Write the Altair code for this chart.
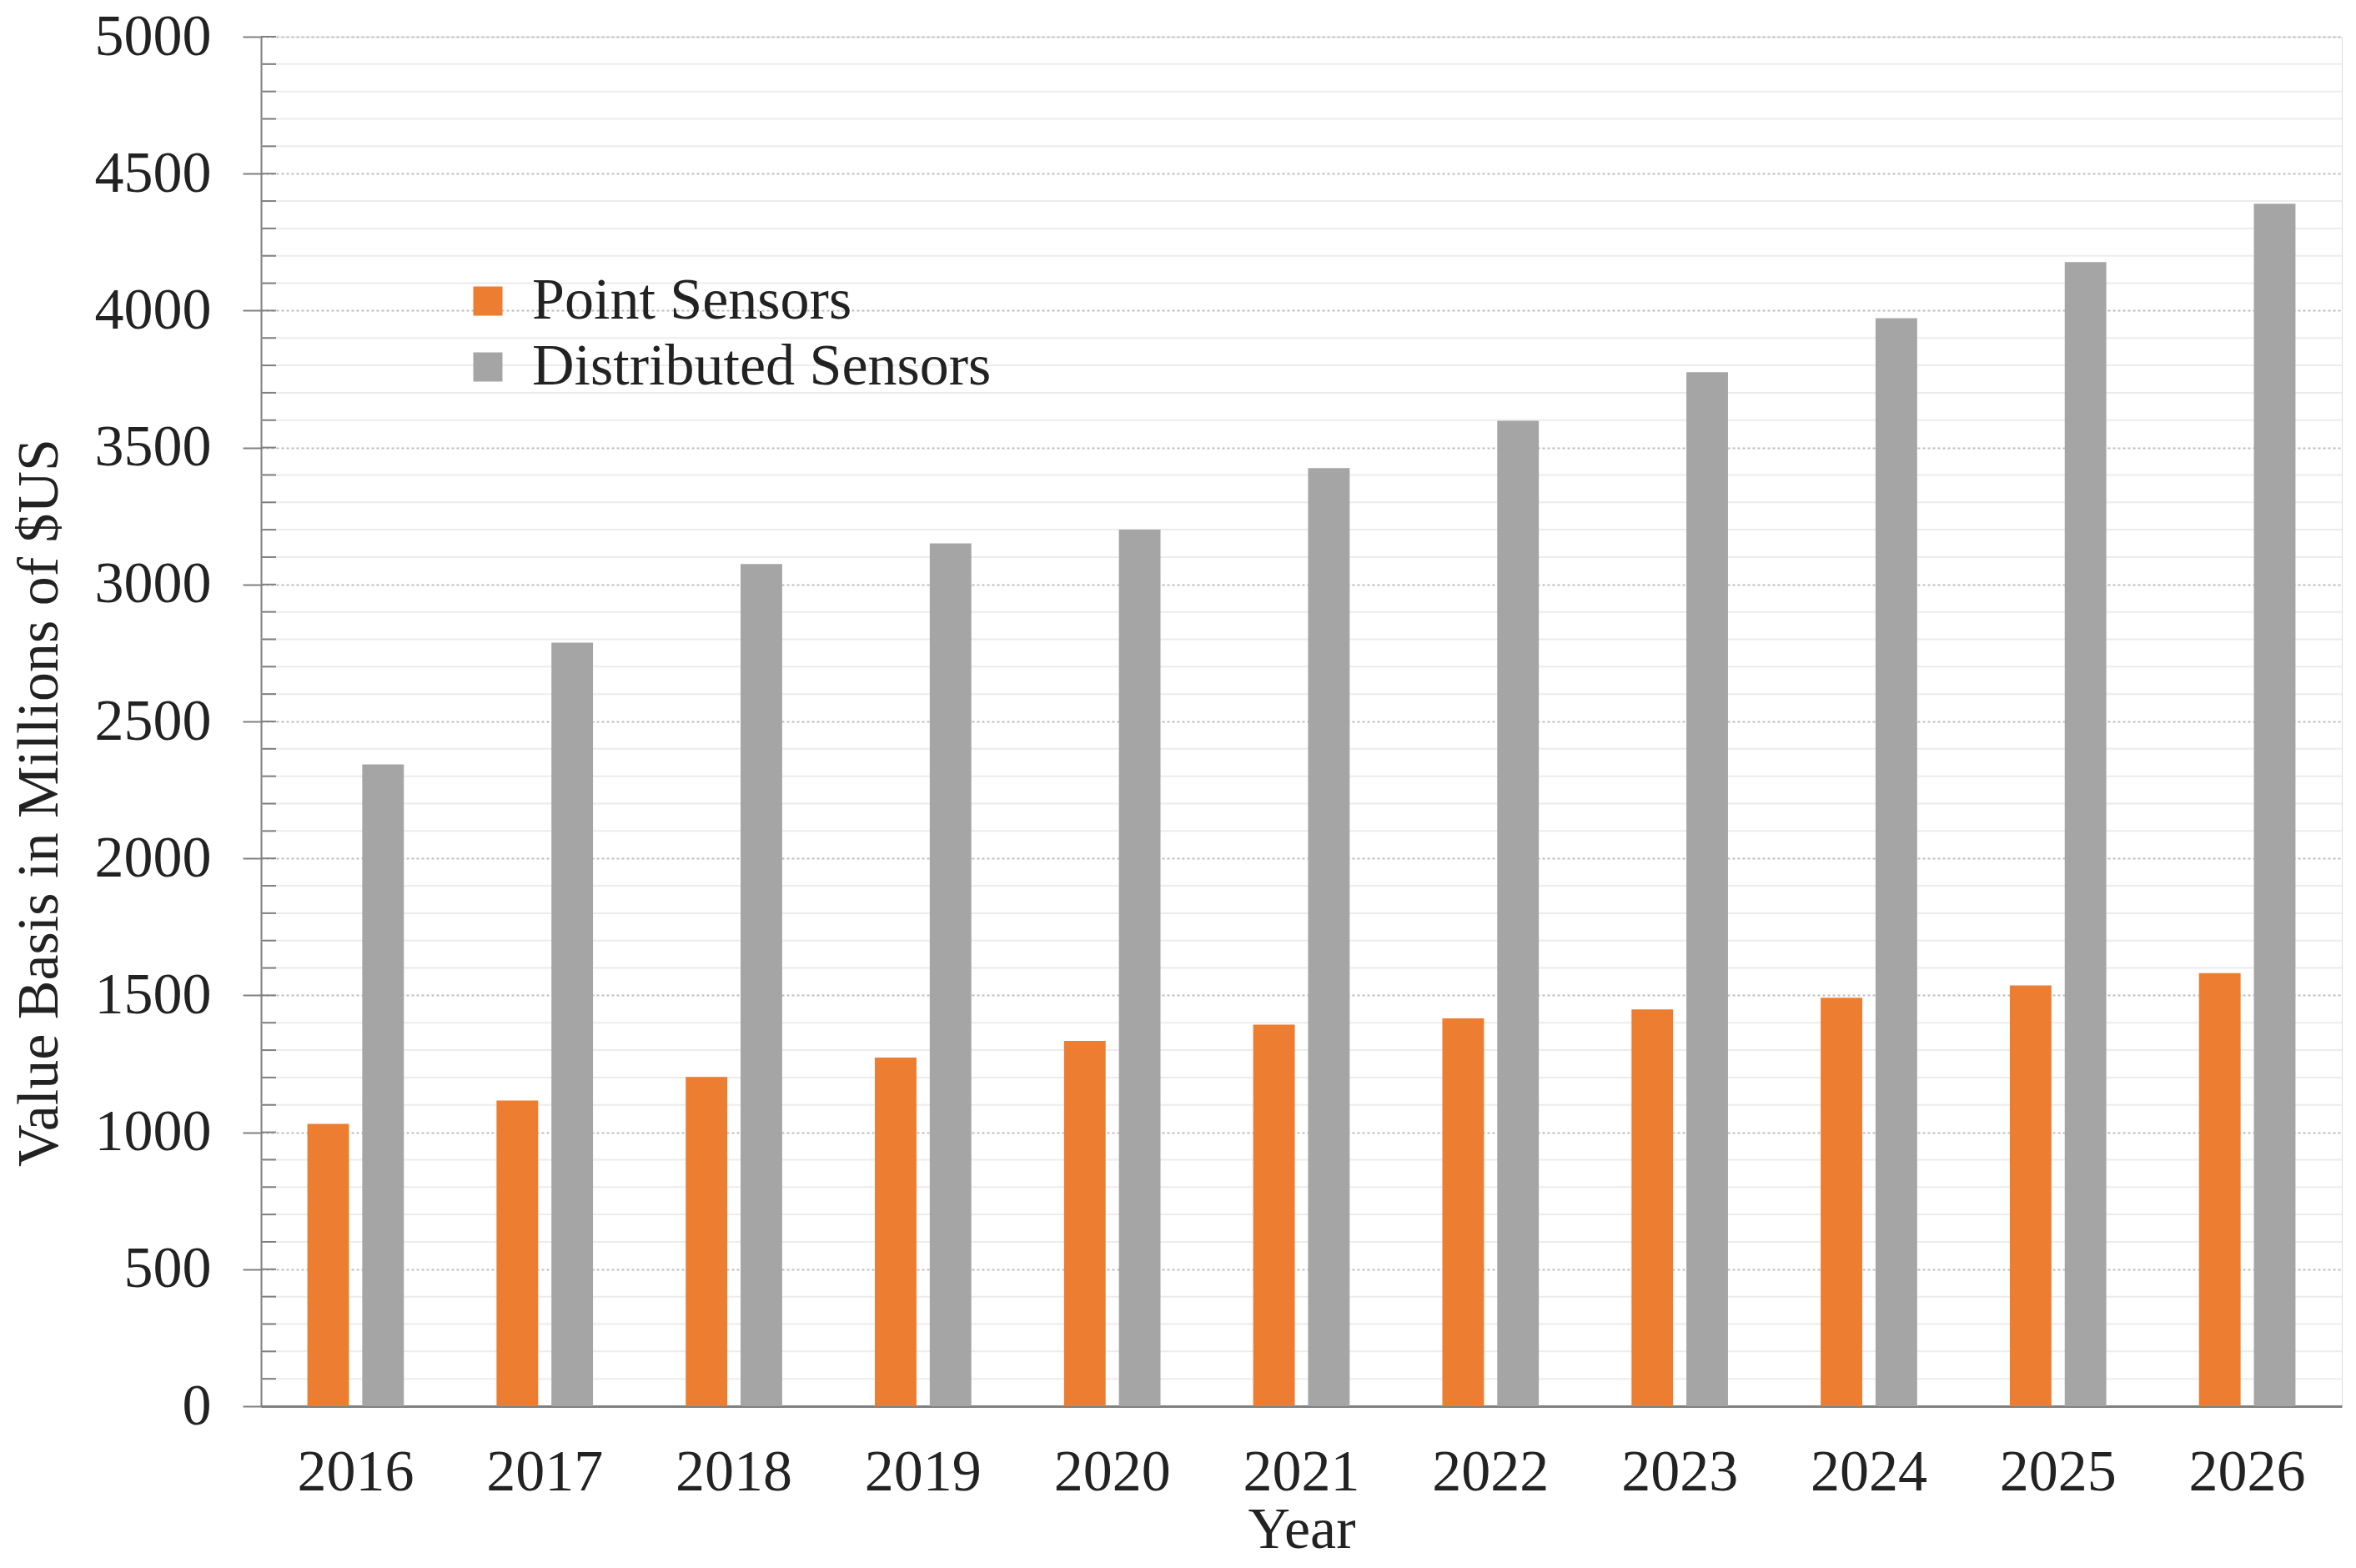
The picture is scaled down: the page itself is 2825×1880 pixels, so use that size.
import altair as alt
import pandas as pd

years = ["2016", "2017", "2018", "2019", "2020", "2021", "2022", "2023", "2024", "2025", "2026"]
point_sensors = [1031, 1116, 1202, 1273, 1334, 1393, 1416, 1449, 1491, 1536, 1581]
distributed_sensors = [2343, 2788, 3075, 3150, 3200, 3425, 3598, 3775, 3972, 4177, 4390]
series_names = ["Point Sensors", "Distributed Sensors"]
series_colors = ["#ED7D31", "#A5A5A5"]
major_ticks = [0, 500, 1000, 1500, 2000, 2500, 3000, 3500, 4000, 4500, 5000]
minor_ticks = [v for v in range(0, 5001, 100)]

rows = []
for i, y in enumerate(years):
    rows.append({"Year": y, "Series": series_names[0], "Value": point_sensors[i]})
    rows.append({"Year": y, "Series": series_names[1], "Value": distributed_sensors[i]})
df = pd.DataFrame(rows)

minor_grid_df = pd.DataFrame({"Value": [v for v in minor_ticks if v % 500 != 0]})
tick_df = pd.DataFrame({"Value": minor_ticks})

FONT = "Liberation Serif"
TXT = "#222222"
AX = "#808080"

yscale = alt.Scale(domain=[0, 5000], nice=False)

y_axis = alt.Axis(
    title="Value Basis in Millions of $US",
    values=major_ticks,
    format="d",
    tickSize=22,
    tickColor=AX,
    tickWidth=2,
    domainColor=AX,
    domainWidth=2,
    grid=True,
    gridColor="#bdbdbd",
    gridDash=[3, 3],
    gridWidth=2,
    labelFont=FONT,
    labelFontSize=70,
    labelColor=TXT,
    labelPadding=38,
    titleFont=FONT,
    titleFontSize=70,
    titleFontWeight="normal",
    titleColor=TXT,
    titlePadding=30,
    titleY=918,
)

grid = alt.Chart(minor_grid_df).mark_rule(color="#ececec", strokeWidth=2).encode(
    y=alt.Y("Value:Q", scale=yscale, axis=y_axis),
    x=alt.value(0),
    x2=alt.value("width"),
)

inner_ticks = alt.Chart(tick_df).mark_rule(color=AX, strokeWidth=2).encode(
    y=alt.Y("Value:Q", scale=yscale, axis=y_axis),
    x=alt.value(0),
    x2=alt.value(18),
)

bars = alt.Chart(df).mark_bar().encode(
    x=alt.X(
        "Year:N",
        sort=years,
        scale=alt.Scale(paddingInner=0.49, paddingOuter=0.245),
        axis=alt.Axis(
            title="Year",
            labelAngle=0,
            ticks=False,
            domainColor=AX,
            domainWidth=3,
            labelFont=FONT,
            labelFontSize=70,
            labelColor=TXT,
            labelPadding=45,
            titleFont=FONT,
            titleFontSize=70,
            titleFontWeight="normal",
            titleColor=TXT,
            titlePadding=0,
        ),
    ),
    xOffset=alt.XOffset("Series:N", sort=series_names, scale=alt.Scale(paddingInner=0.242, paddingOuter=0)),
    y=alt.Y("Value:Q", scale=yscale, axis=y_axis),
    color=alt.Color(
        "Series:N",
        sort=series_names,
        scale=alt.Scale(domain=series_names, range=series_colors),
        legend=alt.Legend(
            title=None,
            orient="none",
            legendX=237,
            legendY=282,
            symbolType="square",
            symbolSize=1225,
            symbolStrokeWidth=0,
            labelFont=FONT,
            labelFontSize=70,
            labelColor=TXT,
            labelOffset=18,
            rowPadding=9,
            padding=0,
            labelLimit=1000,
        ),
    ),
)

chart = alt.layer(grid, bars, inner_ticks).properties(
    width=2495,
    height=1642,
    padding={"left": 4, "top": 1, "right": 4, "bottom": 0},
).configure_view(
    stroke="#a6a6a6", strokeWidth=2
).configure(background="white")

chart.save("out.html", embed_options={"renderer": "svg", "actions": False})
